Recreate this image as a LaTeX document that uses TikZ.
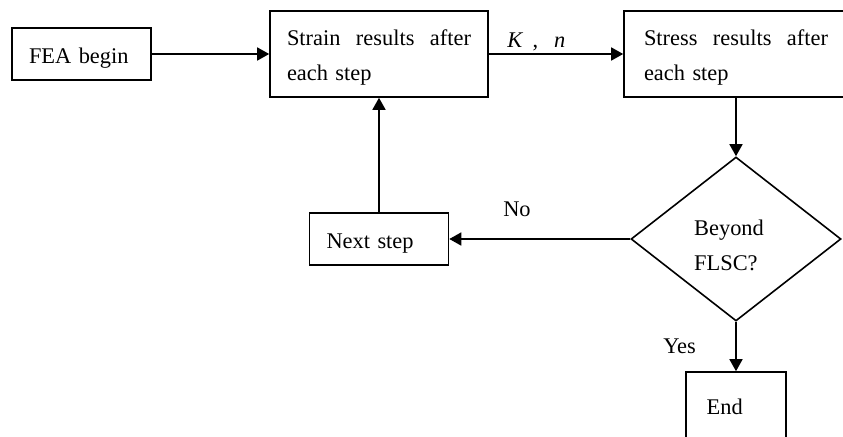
\documentclass[tikz,border=0pt]{standalone}
\usepackage{fontspec}
\setmainfont{Liberation Serif}
\usetikzlibrary{arrows.meta,shapes.geometric}

\tikzset{
  every node/.style={font=\fontsize{16.8pt}{26.25pt}\selectfont},
  flow/.style={line width=1.2pt,-{Triangle[length=9pt,width=9.75pt]}},
  onebox/.style={draw,line width=1.2pt,rectangle,align=left,inner ysep=0pt,
    inner xsep=12.75pt,text width=78.75pt,minimum height=39pt,
    text height=13.5pt,text depth=0pt},
  twobox/.style={draw,line width=1.2pt,rectangle,align=left,inner ysep=0pt,
    inner xsep=12.75pt,text width=138pt,minimum height=64.5pt,
    text height=16.5pt},
  decide/.style={draw,line width=1.2pt,diamond,align=left,inner sep=0pt,
    minimum width=157.5pt,minimum height=123pt,
    text height=46.5pt,text depth=0pt},
  tag/.style={anchor=base west,inner sep=0pt}
}
% three words spread over the full text width of a two-line box
\newcommand{\spreadwords}[3]{\hbox to 138pt{#1\hfill#2\hfill#3}}

\begin{document}
\begin{tikzpicture}[x=0.75pt,y=-0.75pt]
  \clip (0,0) rectangle (843,436);

  % process boxes
  \node[onebox] (fea) at (81.5,54) {FEA begin};
  \node[twobox] (strain) at (379,54)
    {\spreadwords{Strain}{results}{after}\\each step};
  \node[twobox,minimum width=168pt] (stress) at (736,54)
    {\spreadwords{Stress}{results}{after}\\each step};
  \node[decide] (dec) at (736,239) {Beyond\hspace*{10.5pt}\\FLSC?};
  \node[onebox] (next) at (379,239) {Next step};
  \node[onebox,minimum width=75pt,minimum height=49.5pt,inner xsep=0pt,
        text width=44pt] (end) at (736,405) {End};

  % connectors
  \draw[flow] (fea.east) -- (strain.west);
  \draw[flow] (strain.east) -- (stress.west);
  \draw[flow] (stress.south) -- (dec.north);
  \draw[flow] (dec.west) -- (next.east);
  \draw[flow] (next.north) -- (next.north |- strain.south);
  \draw[flow] (dec.south) -- (end.north);

  % connector labels
  \node[tag] (kn) at (507,47) {\textit{K}\hspace{7pt},\hspace{12pt}\textit{n}};
  \node[tag] (no) at (503,216) {No};
  \node[tag] (yes) at (663,353) {Yes};
\end{tikzpicture}
\end{document}
